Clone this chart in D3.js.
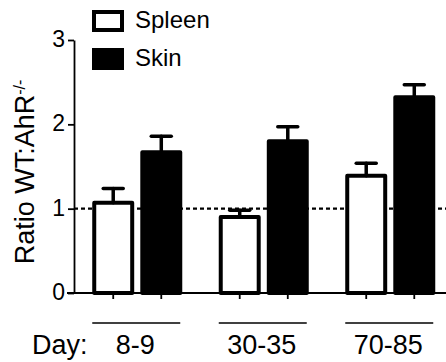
<!DOCTYPE html>
<meta charset="utf-8">
<head>
<script src="https://d3js.org/d3.v7.min.js"></script>
<style>
  body { margin: 0; background: #fff; }
  text { font-family: "Liberation Sans", Arial, sans-serif; fill: #000; }
</style>
</head>
<body>
<script>
"use strict";
var width = 446, height = 362;

// data
var groups = ["8-9", "30-35", "70-85"];
var series = ["Spleen", "Skin"];
var spleenMean = [1.07, 0.90, 1.39];
var spleenErr  = [0.17, 0.08, 0.15];
var skinMean   = [1.67, 1.80, 2.32];
var skinErr    = [0.19, 0.17, 0.15];
var yTicks = [0, 1, 2, 3];

var rows = [];
groups.forEach(function(g, i) {
  rows.push({group: g, series: "Spleen", mean: spleenMean[i], err: spleenErr[i]});
  rows.push({group: g, series: "Skin", mean: skinMean[i], err: skinErr[i]});
});

var svg = d3.select("body").append("svg")
  .attr("width", width)
  .attr("height", height);

var y = d3.scaleLinear().domain([0, 3]).range([293, 40]);

var x0 = d3.scaleBand().domain(groups).range([74, 453.5]);
var x1 = d3.scaleBand().domain(series)
  .range([x0.bandwidth() * 0.16, x0.bandwidth() * 0.84])
  .paddingInner(0.21);

var fill = {Spleen: "#fff", Skin: "#000"};
var cx = function(d) { return x0(d.group) + x1(d.series) + x1.bandwidth() / 2; };

// y axis
var yAxis = svg.append("g")
  .attr("transform", "translate(74,0)")
  .call(d3.axisLeft(y).tickValues(yTicks).tickFormat(d3.format("d")).tickSize(6).tickSizeOuter(0).tickPadding(3));
yAxis.select(".domain").attr("stroke", "#000").attr("stroke-width", 1.8);
yAxis.selectAll(".tick line").attr("stroke", "#000").attr("stroke-width", 1.8);
yAxis.selectAll(".tick text")
  .attr("font-size", "23px")
  .attr("font-family", "Liberation Sans, Arial, sans-serif")
  .attr("fill", "#000")
  .attr("dy", "0.28em");

// dashed reference line at 1
svg.append("line")
  .attr("x1", 74).attr("x2", width)
  .attr("y1", y(1)).attr("y2", y(1))
  .attr("stroke", "#000")
  .attr("stroke-width", 2.3)
  .attr("stroke-dasharray", "4,3");

// bars
svg.selectAll("rect.bar")
  .data(rows)
  .enter().append("rect")
    .attr("class", "bar")
    .attr("x", function(d) { return x0(d.group) + x1(d.series); })
    .attr("width", x1.bandwidth())
    .attr("y", function(d) { return y(d.mean); })
    .attr("height", function(d) { return y(0) - y(d.mean); })
    .attr("fill", function(d) { return fill[d.series]; })
    .attr("stroke", "#000")
    .attr("stroke-width", 4)
    .attr("stroke-linejoin", "round");

// error bars (upper only)
var eb = svg.selectAll("g.err").data(rows).enter().append("g").attr("class", "err")
  .attr("stroke", "#000").attr("stroke-width", 3.5).attr("stroke-linecap", "round");
eb.append("line")
  .attr("x1", cx).attr("x2", cx)
  .attr("y1", function(d) { return y(d.mean); })
  .attr("y2", function(d) { return y(d.mean + d.err); });
eb.append("line")
  .attr("x1", function(d) { return cx(d) - 10; })
  .attr("x2", function(d) { return cx(d) + 10; })
  .attr("y1", function(d) { return y(d.mean + d.err); })
  .attr("y2", function(d) { return y(d.mean + d.err); });

// x axis line and ticks under each bar
svg.append("line")
  .attr("x1", 67).attr("x2", width)
  .attr("y1", y(0)).attr("y2", y(0))
  .attr("stroke", "#000").attr("stroke-width", 1.8);
svg.selectAll("line.xtick")
  .data(rows)
  .enter().append("line")
    .attr("class", "xtick")
    .attr("x1", cx).attr("x2", cx)
    .attr("y1", y(0)).attr("y2", y(0) + 6)
    .attr("stroke", "#000").attr("stroke-width", 1.8);

// group underlines and labels
var gc = function(g) { return x0(g) + x0.bandwidth() / 2; };
svg.selectAll("line.under")
  .data(groups)
  .enter().append("line")
    .attr("class", "under")
    .attr("x1", function(g) { return gc(g) - 45; })
    .attr("x2", function(g) { return gc(g) + 43; })
    .attr("y1", 323).attr("y2", 323)
    .attr("stroke", "#000").attr("stroke-width", 1.5);
svg.selectAll("text.glabel")
  .data(groups)
  .enter().append("text")
    .attr("class", "glabel")
    .attr("x", function(g) { return gc(g) - 2; })
    .attr("y", 354)
    .attr("text-anchor", "middle")
    .style("font-size", "27px")
    .text(function(g) { return g; });
svg.append("text")
  .attr("x", 32).attr("y", 354)
  .style("font-size", "27px")
  .text("Day:");

// y label
var ylab = svg.append("text")
  .attr("transform", "translate(34,172) rotate(-90)")
  .attr("text-anchor", "middle")
  .style("font-size", "27px");
ylab.append("tspan").text("Ratio WT:AhR");
ylab.append("tspan").attr("dy", "-0.55em").style("font-size", "16px").text("-/-");

// legend
var legend = svg.selectAll("g.legend")
  .data(series)
  .enter().append("g")
    .attr("class", "legend")
    .attr("transform", function(d, i) { return "translate(94," + (12 + i * 38) + ")"; });
legend.append("rect")
  .attr("width", 28).attr("height", 18)
  .attr("fill", function(d) { return fill[d]; })
  .attr("stroke", "#000").attr("stroke-width", 4);
legend.append("text")
  .attr("x", 41).attr("y", 16)
  .style("font-size", "24px")
  .text(function(d) { return d; });
</script>
</body>
